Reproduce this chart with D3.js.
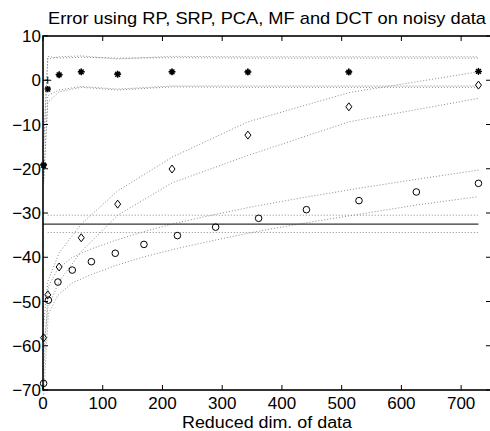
<!DOCTYPE html>
<html><head><meta charset="utf-8">
<script src="https://cdn.jsdelivr.net/npm/d3@7"></script>
<style>
html,body{margin:0;padding:0;background:#fff;}
svg{display:block;}
text{font-family:"Liberation Sans",Arial,Helvetica,sans-serif;fill:#000;}
</style></head>
<body>
<svg id="chart" width="490" height="431"></svg>
<script>
// ---------- data ----------
const titleText = "Error using RP, SRP, PCA, MF and DCT on noisy data";
const xLabelText = "Reduced dim. of data";
const xTicks = [0, 100, 200, 300, 400, 500, 600, 700];
const yTicks = [10, 0, -10, -20, -30, -40, -50, -60, -70];

// circles (squares of odd numbers)
const circleDims  = [1, 9, 25, 49, 81, 121, 169, 225, 289, 361, 441, 529, 625, 729];
const circleMean  = [-68.5, -49.7, -45.6, -42.9, -41.0, -39.1, -37.1, -35.1, -33.2, -31.2, -29.25, -27.2, -25.25, -23.3];
const circleUpper = [-66.0, -46.6, -42.6, -40.0, -38.1, -36.2, -34.2, -32.2, -30.3, -28.3, -26.4, -24.4, -22.4, -20.3];
const circleLower = [-71.0, -52.8, -48.6, -45.8, -43.9, -41.9, -39.9, -38.0, -36.1, -34.1, -32.2, -30.3, -28.2, -26.3];

// diamonds, stars and pluses (cubes)
const cubeDims     = [1, 8, 27, 64, 125, 216, 343, 512, 729];
const diamondMean  = [-58.2, -48.5, -42.2, -35.6, -28.0, -20.06, -12.4, -6.0, -1.1];
const diamondUpper = [-55.5, -45.5, -39.0, -32.5, -25.0, -17.4, -9.4, -2.8, 1.9];
const diamondLower = [-61.0, -51.5, -45.5, -38.7, -30.5, -23.2, -17.0, -9.4, -4.1];

const starMean  = [-19.2, -2.0, 1.2, 1.9, 1.35, 1.9, 1.85, 1.85, 2.0];
const starUpper = [-15.0, 4.8, 5.3, 5.5, 4.8, 5.4, 5.3, 5.3, 5.3];
const starLower = [-23.5, -5.0, -2.6, -1.6, -2.2, -1.5, -1.6, -1.6, -1.6];

const plusMean  = [-19.0, 0.0, 1.3, 1.9, 1.4, 1.9, 1.9, 1.9, 2.0];
const plusUpper = [-15.5, 5.4, 5.0, 5.2, 5.0, 5.1, 5.0, 5.0, 5.0];
const plusLower = [-23.0, -3.5, -2.2, -1.4, -2.0, -1.3, -1.3, -1.3, -1.3];

// horizontal reference level
const refSolidDims = [0, 729];
const refBandDims  = [8, 729];
const refLevel = -32.5;
const refUpper = -30.5;
const refLower = -34.4;

// ---------- layout ----------
const mLeft = 43, mRight = 491, mTop = 36, mBottom = 390;
const svg = d3.select("#chart");
const x = d3.scaleLinear().domain([0, 750]).range([mLeft, mRight]);
const y = d3.scaleLinear().domain([-70, 10]).range([mBottom, mTop]);

const line = d3.line().x(d => x(d[0])).y(d => y(d[1]));
const zip = (xs, ys) => xs.map((v, i) => [v, ys[i]]);

const plot = svg.append("g");

function dotted(xs, ys) {
  plot.append("path").datum(zip(xs, ys)).attr("d", line)
    .attr("fill", "none").attr("stroke", "#8a8a8a").attr("stroke-width", 1)
    .attr("stroke-dasharray", "1,2");
}

// bands
dotted(circleDims, circleUpper); dotted(circleDims, circleLower);
dotted(cubeDims, diamondUpper); dotted(cubeDims, diamondLower);
dotted(cubeDims, starUpper); dotted(cubeDims, starLower);
dotted(cubeDims, plusUpper); dotted(cubeDims, plusLower);
dotted(refBandDims, refBandDims.map(() => refUpper));
dotted(refBandDims, refBandDims.map(() => refLower));

// solid reference
plot.append("path").datum(zip(refSolidDims, refSolidDims.map(() => refLevel))).attr("d", line)
  .attr("fill", "none").attr("stroke", "#333").attr("stroke-width", 1.3);

// markers
plot.selectAll(".circ").data(zip(circleDims, circleMean)).enter().append("circle")
  .attr("cx", d => x(d[0])).attr("cy", d => y(d[1])).attr("r", 3.3)
  .attr("fill", "none").attr("stroke", "#000").attr("stroke-width", 1);

plot.selectAll(".diam").data(zip(cubeDims, diamondMean)).enter().append("path")
  .attr("d", d => { const cx = x(d[0]), cy = y(d[1]);
    return `M${cx},${cy-4}L${cx+3},${cy}L${cx},${cy+4}L${cx-3},${cy}Z`; })
  .attr("fill", "none").attr("stroke", "#000").attr("stroke-width", 1);

plot.selectAll(".plus").data(zip(cubeDims, plusMean)).enter().append("path")
  .attr("d", d => { const cx = x(d[0]), cy = y(d[1]), s = 3.5;
    return `M${cx-s},${cy}L${cx+s},${cy}M${cx},${cy-s}L${cx},${cy+s}`; })
  .attr("fill", "none").attr("stroke", "#000").attr("stroke-width", 1);

plot.selectAll(".star").data(zip(cubeDims, starMean)).enter().append("path")
  .attr("d", d => { const cx = x(d[0]), cy = y(d[1]), s = 3.2, t = 2.4;
    return `M${cx-s},${cy}L${cx+s},${cy}M${cx},${cy-s}L${cx},${cy+s}` +
           `M${cx-t},${cy-t}L${cx+t},${cy+t}M${cx-t},${cy+t}L${cx+t},${cy-t}`; })
  .attr("fill", "none").attr("stroke", "#000").attr("stroke-width", 1.5);

// ---------- axes box with inward ticks ----------
const ax = svg.append("g");
const tl = 5;
ax.selectAll(".xtb").data(xTicks).enter().append("line")
  .attr("x1", d => x(d)).attr("x2", d => x(d)).attr("y1", mBottom).attr("y2", mBottom - tl)
  .attr("stroke", "#000").attr("stroke-width", 1);
ax.selectAll(".xtt").data(xTicks).enter().append("line")
  .attr("x1", d => x(d)).attr("x2", d => x(d)).attr("y1", mTop).attr("y2", mTop + tl)
  .attr("stroke", "#000").attr("stroke-width", 1);
ax.selectAll(".ytl").data(yTicks).enter().append("line")
  .attr("x1", mLeft).attr("x2", mLeft + tl).attr("y1", d => y(d)).attr("y2", d => y(d))
  .attr("stroke", "#000").attr("stroke-width", 1);
ax.selectAll(".ytr").data(yTicks).enter().append("line")
  .attr("x1", mRight).attr("x2", mRight - tl).attr("y1", d => y(d)).attr("y2", d => y(d))
  .attr("stroke", "#000").attr("stroke-width", 1);
ax.append("rect").attr("x", mLeft).attr("y", mTop).attr("width", mRight - mLeft).attr("height", mBottom - mTop)
  .attr("fill", "none").attr("stroke", "#000").attr("stroke-width", 1.6);

// tick labels
const fmt = v => (v < 0 ? "\u2212" + Math.abs(v) : String(v));
ax.selectAll(".xl").data(xTicks).enter().append("text")
  .attr("x", d => x(d)).attr("y", mBottom + 19).attr("text-anchor", "middle")
  .attr("font-size", 17).text(fmt);
ax.selectAll(".yl").data(yTicks).enter().append("text")
  .attr("x", mLeft - 2).attr("y", d => y(d) + 6).attr("text-anchor", "end")
  .attr("font-size", 17).text(fmt);

// title and x label
svg.append("text").attr("x", (mLeft + mRight) / 2).attr("y", 24).attr("text-anchor", "middle")
  .attr("font-size", 17).attr("textLength", 438).attr("lengthAdjust", "spacingAndGlyphs").text(titleText);
svg.append("text").attr("x", (mLeft + mRight) / 2).attr("y", 428).attr("text-anchor", "middle")
  .attr("font-size", 16).attr("textLength", 170).attr("lengthAdjust", "spacingAndGlyphs").text(xLabelText);
</script>
</body></html>
